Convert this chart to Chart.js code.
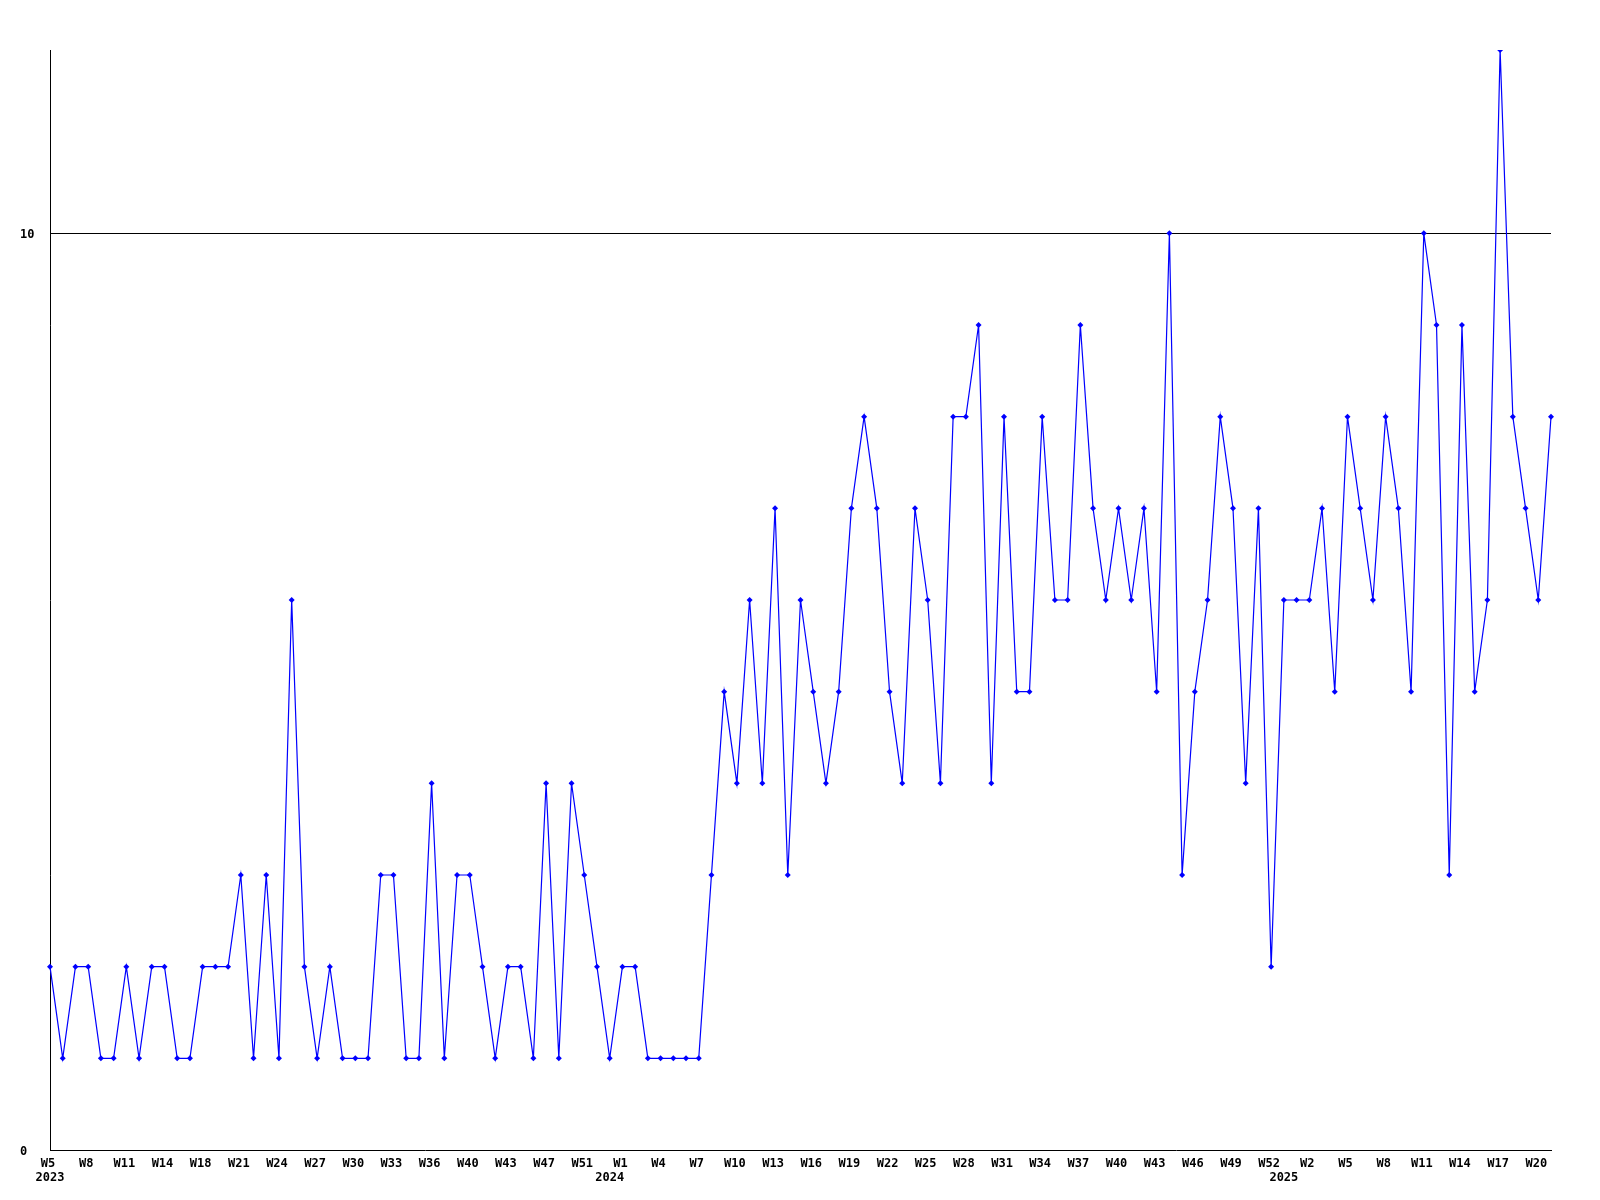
<!DOCTYPE html>
<html>
<head>
<meta charset="utf-8">
<script src="https://cdn.jsdelivr.net/npm/chart.js@4"></script>
<style>
  body { margin: 0; background: #fff; }
</style>
</head>
<body>
<canvas id="weekChart" width="1600" height="1200"></canvas>
<script>
// weekly counts, one value per point
var counts = [
  2, 1, 2, 2, 1, 1, 2, 1, 2, 2, 1, 1, 2, 2, 2,
  3, 1, 3, 1, 6, 2, 1, 2, 1, 1, 1, 3, 3, 1, 1,
  4, 1, 3, 3, 2, 1, 2, 2, 1, 4, 1, 4, 3, 2, 1,
  2, 2, 1, 1, 1, 1, 1, 3, 5, 4, 6, 4, 7, 3, 6,
  5, 4, 5, 7, 8, 7, 5, 4, 7, 6, 4, 8, 8, 9, 4,
  8, 5, 5, 8, 6, 6, 9, 7, 6, 7, 6, 7, 5, 10, 3,
  5, 6, 8, 7, 4, 7, 2, 6, 6, 6, 7, 5, 8, 7,
  6, 8, 7, 5, 10, 9, 3, 9, 5, 6, 12, 8, 7, 6, 8
];

// week labels, shown on every third point
var weekLabels = [
  'W5', 'W8', 'W11', 'W14', 'W18', 'W21', 'W24', 'W27', 'W30', 'W33',
  'W36', 'W40', 'W43', 'W47', 'W51',
  'W1', 'W4', 'W7', 'W10', 'W13', 'W16', 'W19', 'W22', 'W25', 'W28',
  'W31', 'W34', 'W37', 'W40', 'W43', 'W46', 'W49', 'W52',
  'W2', 'W5', 'W8', 'W11', 'W14', 'W17', 'W20'
];

// year labels and the point where each year starts
var yearLabels = ['2023', '2024', '2025'];
var yearStart = [0, 44, 97];

var categories = counts.map(function(v, i) {
  return i % 3 === 0 ? weekLabels[i / 3] : '';
});

var tickFont = { family: '"DejaVu Sans Mono", monospace', size: 12, weight: 'bold' };

var ctx = document.getElementById('weekChart').getContext('2d');
new Chart(ctx, {
  type: 'line',
  data: {
    labels: categories,
    datasets: [{
      data: counts,
      borderColor: '#0000ff',
      backgroundColor: '#0000ff',
      borderWidth: 1.2,
      tension: 0,
      pointStyle: 'rectRot',
      pointRadius: 3,
      pointBorderWidth: 0,
      fill: false
    }]
  },
  options: {
    responsive: false,
    animation: false,
    layout: { padding: { left: 20, right: 49, top: 50, bottom: 14 } },
    plugins: {
      legend: { display: false },
      tooltip: { enabled: false }
    },
    scales: {
      x: {
        type: 'category',
        position: 'bottom',
        offset: false,
        grid: { display: false, drawTicks: false },
        border: { display: true, color: '#000', width: 1 },
        ticks: {
          autoSkip: false,
          maxRotation: 0,
          minRotation: 0,
          padding: 7,
          labelOffset: -2,
          color: '#000',
          font: tickFont
        },
        afterFit: function(scale) { scale.height = 19; }
      },
      x2: {
        type: 'category',
        position: 'bottom',
        offset: false,
        grid: { display: false, drawTicks: false },
        border: { display: false },
        ticks: {
          autoSkip: false,
          maxRotation: 0,
          minRotation: 0,
          padding: 2,
          color: '#000',
          font: tickFont,
          callback: function(value, index) {
            var k = yearStart.indexOf(index);
            return k >= 0 ? yearLabels[k] : '';
          }
        },
        afterFit: function(scale) { scale.height = 17; }
      },
      y: {
        min: 0,
        max: 12,
        grid: {
          drawTicks: false,
          color: function(c) { return c.tick && c.tick.value === 10 ? '#000' : 'rgba(0,0,0,0)'; },
          lineWidth: 1
        },
        border: { display: true, color: '#000', width: 1 },
        ticks: {
          stepSize: 10,
          includeBounds: false,
          crossAlign: 'far',
          padding: 0,
          labelOffset: 1.5,
          color: '#000',
          font: tickFont
        },
        afterFit: function(scale) { scale.width = 30; }
      }
    }
  }
});
</script>
</body>
</html>
